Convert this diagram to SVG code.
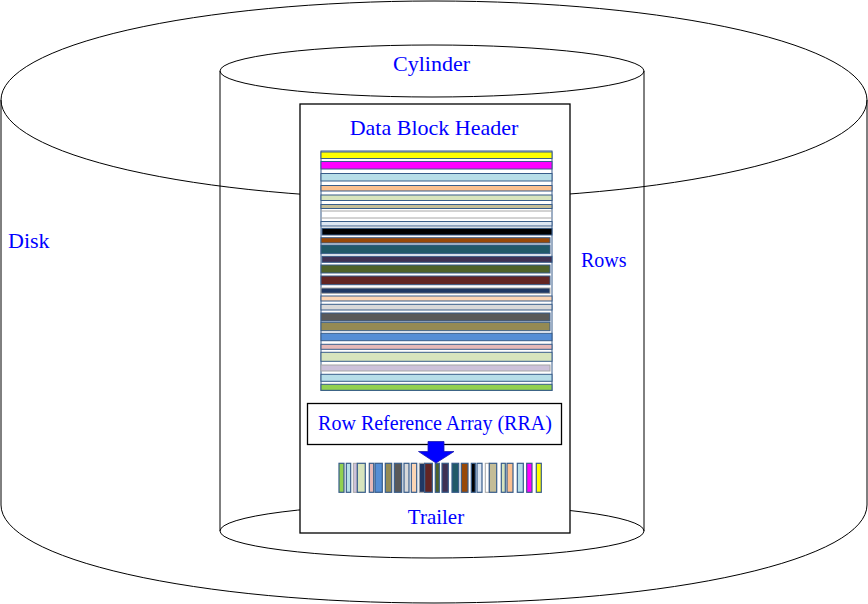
<svg xmlns="http://www.w3.org/2000/svg" width="868" height="604" viewBox="0 0 868 604">
<defs>
<style>
.ln{fill:none;stroke:#000;stroke-width:1}
.txt{font-family:"Liberation Serif","Times New Roman",serif;fill:#0000ff}
.s{stroke:#385d8a;stroke-width:1}
.g{stroke:#a6a6a6;stroke-width:1}
.b{stroke:#385d8a;stroke-width:1.2}
</style>
</defs>
<rect width="868" height="604" fill="#fff"/>
<g id="disk">
<ellipse class="ln" cx="434" cy="100" rx="433" ry="99"/>
<line class="ln" x1="1" y1="100" x2="1" y2="505"/>
<line class="ln" x1="867" y1="100" x2="867" y2="505"/>
<path class="ln" d="M1,505 A433,98 0 0 0 867,505"/>
<text class="txt" x="8" y="248" font-size="22">Disk</text>
</g>
<g id="cylinder">
<ellipse class="ln" cx="432" cy="71" rx="212" ry="26"/>
<line class="ln" x1="220" y1="71" x2="220" y2="531"/>
<line class="ln" x1="644" y1="71" x2="644" y2="531"/>
<ellipse class="ln" cx="432" cy="531" rx="212" ry="27"/>
<text class="txt" x="431.5" y="71" font-size="22" text-anchor="middle">Cylinder</text>
</g>
<g id="data-block">
<rect x="300" y="104" width="270" height="429" fill="#fff" stroke="#000" stroke-width="1.3"/>
<text class="txt" x="434" y="135" font-size="22" text-anchor="middle">Data Block Header</text>
</g>
<g id="rows">
<rect x="321" y="151" width="231" height="239.5" fill="#fff" class="s"/>
<rect class="s" x="321" y="152" width="231" height="6.5" fill="#ffff00"/>
<rect class="s" x="321" y="161.5" width="231" height="7.5" fill="#ff00ff"/>
<rect class="s" x="321" y="173.5" width="231" height="7.5" fill="#b7dee8"/>
<rect class="s" x="321" y="185.5" width="231" height="5.5" fill="#fac090"/>
<rect class="s" x="321" y="195" width="231" height="5.5" fill="#d7e4bd"/>
<rect class="s" x="321" y="204.5" width="231" height="4" fill="#c4bd97"/>
<line class="g" x1="321" y1="211" x2="552" y2="211"/>
<line class="g" x1="321" y1="218" x2="552" y2="218"/>
<rect class="s" x="321" y="221.5" width="231" height="4.5" fill="#dce6f2"/>
<rect class="s" x="322" y="228.3" width="230" height="6.7" fill="#000"/>
<rect class="s" x="321" y="237.7" width="229" height="5.3" fill="#984807"/>
<rect class="s" x="321" y="245" width="229" height="8.7" fill="#215968"/>
<rect class="s" x="322" y="256.3" width="230" height="6" fill="#403152"/>
<rect class="s" x="321" y="265" width="229" height="8" fill="#4f6228"/>
<rect class="s" x="321" y="276" width="229" height="8.7" fill="#632523"/>
<rect class="g" x="321" y="288" width="229" height="5.3" fill="#1f3864"/>
<rect class="s" x="321" y="296" width="231" height="5" fill="#fcd5b4"/>
<rect class="s" x="321" y="304.3" width="231" height="5.7" fill="#d9d9d9"/>
<rect class="s" x="321" y="313" width="229" height="8" fill="#595959"/>
<rect class="s" x="321" y="322.3" width="229" height="8.4" fill="#948a54"/>
<rect class="s" x="321" y="333.3" width="231" height="7.4" fill="#558ed5"/>
<rect class="s" x="321" y="344.3" width="231" height="5" fill="#e6b9b8"/>
<rect class="s" x="321" y="352.3" width="231" height="9" fill="#d7e4bd"/>
<rect class="g" x="321" y="365" width="229" height="6" fill="#ccc1da"/>
<rect class="s" x="321" y="374.3" width="231" height="7" fill="#b7dee8"/>
<rect class="s" x="321" y="384.3" width="231" height="6" fill="#92d050"/>
<text class="txt" x="581" y="267" font-size="20">Rows</text>
</g>
<g id="rra">
<rect x="307.5" y="403.5" width="254" height="41" fill="#fff" stroke="#000" stroke-width="1.3"/>
<text class="txt" x="435" y="429.5" font-size="20" text-anchor="middle">Row Reference Array (RRA)</text>
</g>
<g id="trailer">
<rect class="b" x="339" y="463.3" width="5" height="29" fill="#92d050"/>
<rect class="b" x="346.3" y="463.3" width="4.4" height="29" fill="#b7dee8"/>
<rect class="g" x="353.3" y="463.3" width="4" height="29" fill="#ccc1da"/>
<rect class="b" x="357.3" y="463.3" width="8" height="29" fill="#d7e4bd"/>
<rect class="b" x="369.3" y="463.3" width="4.4" height="29" fill="#e6b9b8"/>
<rect class="b" x="375" y="463.3" width="7.3" height="29" fill="#558ed5"/>
<rect class="b" x="385.3" y="463.3" width="6.4" height="29" fill="#948a54"/>
<rect class="b" x="394.3" y="463.3" width="7.4" height="29" fill="#595959"/>
<rect class="b" x="404" y="463.3" width="5" height="29" fill="#d9d9d9"/>
<rect class="b" x="411.3" y="463.3" width="5.4" height="29" fill="#fcd5b4"/>
<rect class="g" x="419.3" y="463.3" width="5.4" height="29" fill="#1f3864"/>
<rect class="b" x="424.7" y="463.3" width="7.6" height="29" fill="#632523"/>
<rect class="b" x="435.3" y="463.3" width="4" height="29" fill="#4f6228"/>
<rect class="b" x="442" y="463.3" width="6.3" height="29" fill="#403152"/>
<rect class="b" x="452" y="463.3" width="6.7" height="29" fill="#215968"/>
<rect class="b" x="461.3" y="463.3" width="6.7" height="29" fill="#984807"/>
<rect class="b" x="471.3" y="463.3" width="4" height="29" fill="#000"/>
<rect class="b" x="477" y="463.3" width="5" height="29" fill="#dce6f2"/>
<rect class="g" x="485.3" y="463.3" width="4" height="29" fill="#fff"/>
<rect class="b" x="489.3" y="463.3" width="7.4" height="29" fill="#c4bd97"/>
<rect class="b" x="501.3" y="463.3" width="4" height="29" fill="#d7e4bd"/>
<rect class="b" x="507" y="463.3" width="6" height="29" fill="#fac090"/>
<rect class="b" x="517.3" y="463.3" width="6" height="29" fill="#b7dee8"/>
<rect class="b" x="526.7" y="463.3" width="5.3" height="29" fill="#ff00ff"/>
<rect class="b" x="536.3" y="463.3" width="5" height="29" fill="#ffff00"/>
<text class="txt" x="436" y="524" font-size="21" text-anchor="middle">Trailer</text>
</g>
<g id="connectors">
<polygon points="428,441.5 444,441.5 444,451.5 454,451.5 436,463 418.5,451.5 428,451.5" fill="#0000ff" stroke="#1a1ab0" stroke-width="0.8"/>
</g>
</svg>
